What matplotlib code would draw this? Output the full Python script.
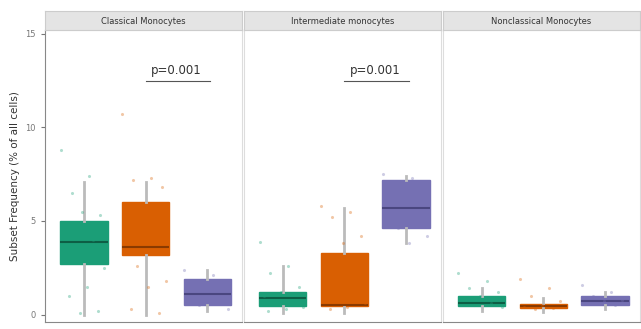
import numpy as np
import matplotlib
matplotlib.use("Agg")
import matplotlib.pyplot as plt

# Facetten und Gruppen
panels = ["Classical Monocytes", "Intermediate monocytes", "Nonclassical Monocytes"]
colors = ["#1b9e77", "#d95f02", "#7570b3"]
medians = ["#0d5e45", "#8a3a00", "#4a4680"]

# Boxplot-Kennwerte je Facette (grün, orange, lila)
q1 = [[2.7, 3.2, 0.5], [0.45, 0.45, 4.6], [0.45, 0.35, 0.5]]
med = [[3.9, 3.6, 1.1], [0.9, 0.5, 5.7], [0.6, 0.45, 0.75]]
q3 = [[5.0, 6.0, 1.9], [1.2, 3.3, 7.2], [1.0, 0.55, 1.0]]
whislo = [[0.0, 0.0, 0.2], [0.1, 0.1, 3.8], [0.2, 0.15, 0.3]]
whishi = [[7.1, 7.1, 2.4], [2.6, 5.7, 7.4], [1.4, 0.9, 1.2]]

# Einzelwerte (Punkte)
points = [
    [[8.8, 7.4, 6.5, 5.3, 5.5, 4.9, 4.0, 3.2, 2.5, 1.5, 1.0, 0.2, 0.1],
     [10.7, 7.3, 7.2, 6.8, 5.5, 4.5, 3.5, 2.6, 1.8, 1.5, 0.3, 0.1],
     [2.4, 2.1, 1.7, 1.3, 1.0, 0.8, 0.6, 0.5, 0.3]],
    [[3.9, 2.6, 2.2, 1.5, 1.2, 1.0, 0.8, 0.6, 0.4, 0.3, 0.2],
     [5.8, 5.5, 5.2, 4.2, 3.8, 3.0, 2.0, 1.2, 0.6, 0.4, 0.3],
     [7.5, 7.3, 7.0, 6.5, 6.0, 5.5, 5.0, 4.6, 4.2, 3.8]],
    [[2.2, 1.8, 1.4, 1.2, 1.0, 0.8, 0.6, 0.5, 0.4],
     [1.9, 1.4, 1.0, 0.7, 0.5, 0.4, 0.35, 0.3],
     [1.6, 1.2, 1.0, 0.8, 0.7, 0.6, 0.5]],
]

# p-Werte (Gruppe 2 vs 3)
pvals = ["p=0.001", "p=0.001", None]

fig = plt.figure(figsize=(6.41, 3.29), dpi=100)
left, right, bottom, top = 0.070, 0.998, 0.021, 0.909
gap = 0.003
w = (right - left - 2 * gap) / 3

for i, name in enumerate(panels):
    ax = fig.add_axes([left + i * (w + gap), bottom, w, top - bottom])
    stats = []
    for j in range(3):
        stats.append(dict(q1=q1[i][j], med=med[i][j], q3=q3[i][j],
                          whislo=whislo[i][j], whishi=whishi[i][j], fliers=[]))
    bp = ax.bxp(stats, positions=[1, 2, 3], widths=0.77, patch_artist=True,
                showcaps=False, zorder=2,
                whiskerprops=dict(color="#bbbbbb", lw=2),
                medianprops=dict(lw=1.5))
    for j, box in enumerate(bp["boxes"]):
        box.set_facecolor(colors[j])
        box.set_edgecolor(colors[j])
        bp["medians"][j].set_color(medians[j])

    for j in range(3):
        vals = np.array(points[i][j])
        n = len(vals)
        jit = ((np.arange(n) * 0.618) % 1 - 0.5) * 0.75
        ax.scatter(j + 1 + jit, vals, s=5, color=colors[j], alpha=0.35,
                   lw=0, zorder=3)

    if pvals[i]:
        ax.plot([2.0, 3.05], [12.5, 12.5], color="#555555", lw=0.8)
        ax.text(2.5, 12.7, pvals[i], ha="center", va="bottom", fontsize=8.5,
                color="#333333")

    ax.set_xlim(0.37, 3.56)
    ax.set_ylim(-0.4, 15.2)
    ax.set_xticks([])
    for s in ax.spines.values():
        s.set_color("#dddddd")
        s.set_linewidth(0.8)
    if i == 0:
        ax.spines["left"].set_color("#888888")
        ax.set_yticks([0, 5, 10, 15])
        ax.tick_params(axis="y", labelsize=6, colors="#777777", length=3)
        ax.set_ylabel("Subset Frequency (% of all cells)", fontsize=7.5,
                      color="#333333", labelpad=4)
    else:
        ax.set_yticks([])
    ax.spines["bottom"].set_color("#888888")

    # Streifen oben
    strip = fig.add_axes([left + i * (w + gap), top, w, 0.058])
    strip.set_facecolor("#e4e4e4")
    strip.set_xticks([])
    strip.set_yticks([])
    for s in strip.spines.values():
        s.set_color("#cccccc")
    strip.text(0.5, 0.45, name, ha="center", va="center", fontsize=6,
               color="#333333", transform=strip.transAxes)

fig.savefig("out.png", dpi=100)
